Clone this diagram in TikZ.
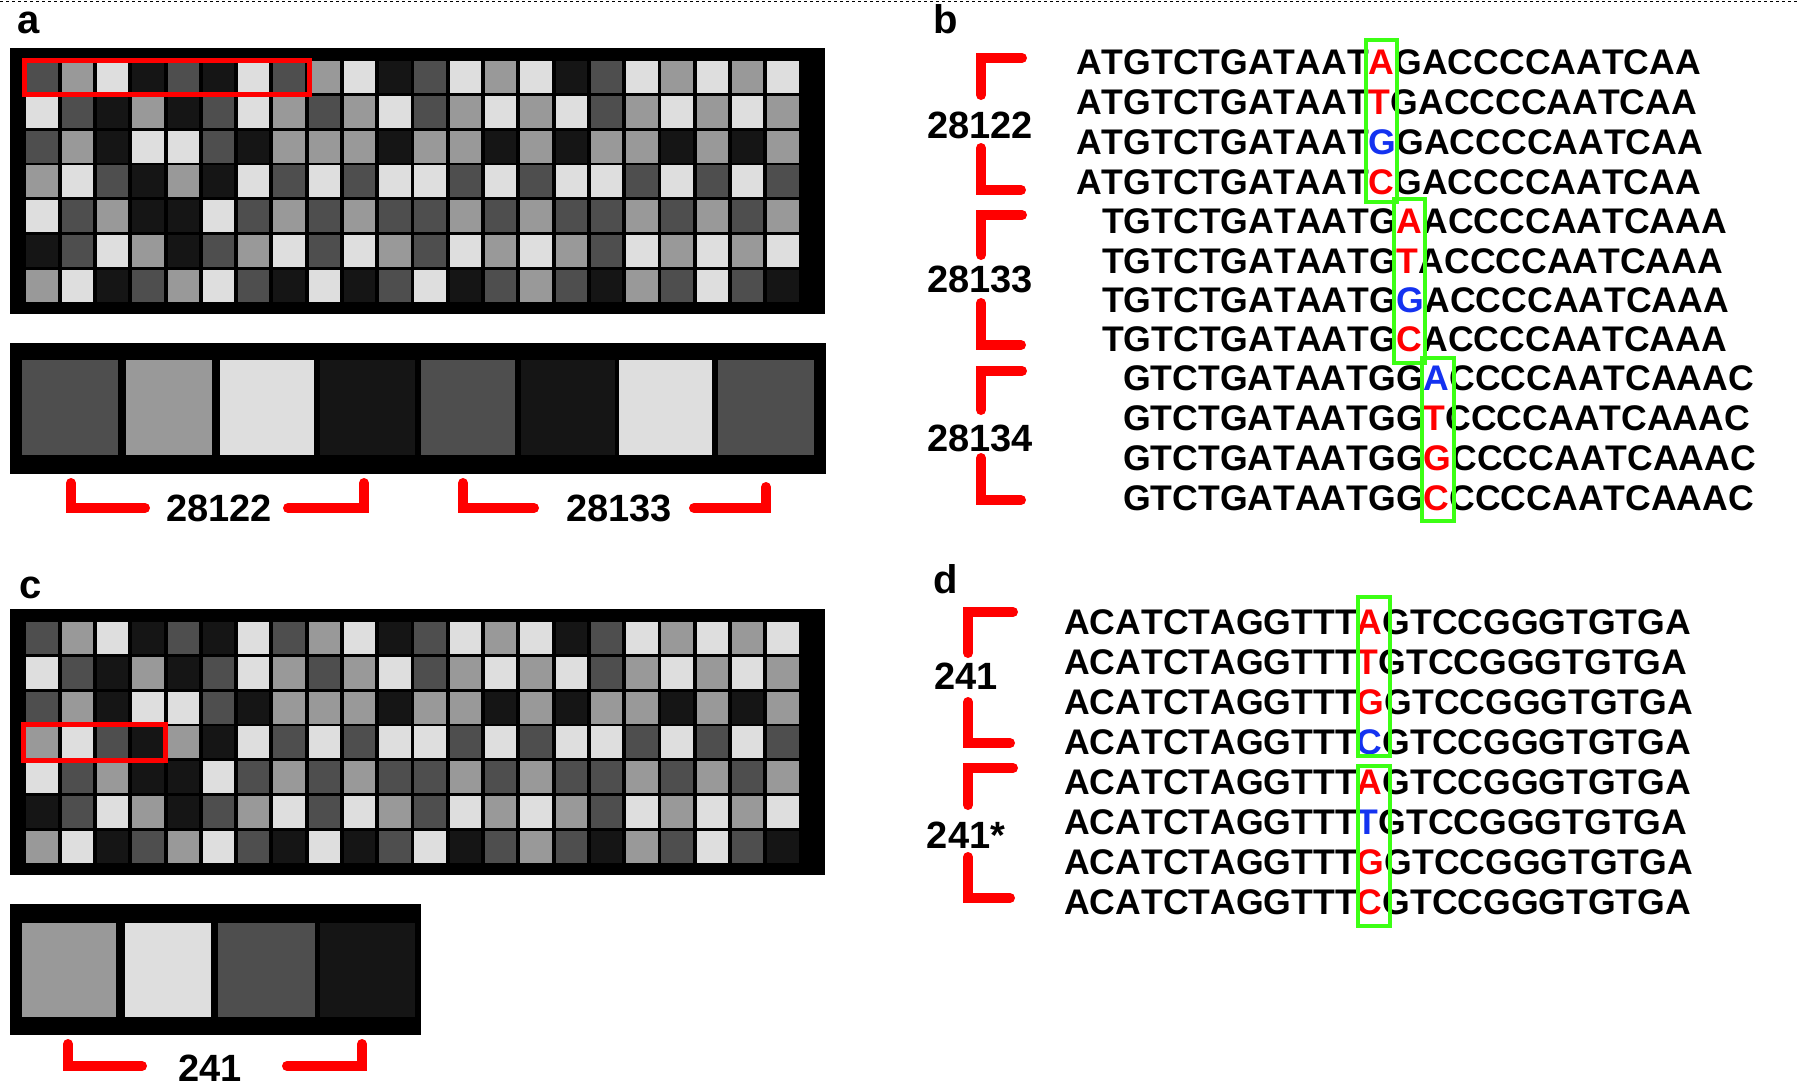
\documentclass[tikz,border=0pt]{standalone}
\usepackage{fontspec}
\setmainfont{Liberation Sans}[Kerning=Off]
\definecolor{gL}{RGB}{222,222,222}
\definecolor{gM}{RGB}{153,153,153}
\definecolor{gD}{RGB}{78,78,78}
\definecolor{gK}{RGB}{21,21,21}
\definecolor{mred}{RGB}{255,0,0}
\definecolor{mblue}{RGB}{20,50,240}
\definecolor{mgreen}{RGB}{60,255,20}
\newcommand{\hlr}[1]{\textcolor{mred}{#1}}
\newcommand{\hlb}[1]{\textcolor{mblue}{#1}}
\def\gridrows{{D,M,L,K,D,K,L,D,M,L,K,D,L,M,L,K,D,L,M,L,M,L},{L,D,K,M,K,D,L,M,D,M,L,D,M,L,M,L,D,M,L,M,L,M},{D,M,K,L,L,D,K,M,M,M,K,M,M,K,M,K,M,M,K,M,K,M},{M,L,D,K,M,K,L,D,L,D,L,L,D,L,D,L,L,D,L,D,L,D},{L,D,M,K,K,L,D,M,D,M,D,D,M,D,M,D,D,M,D,M,D,M},{K,D,L,M,K,D,M,L,D,L,M,D,L,M,L,M,D,L,M,L,M,L},{M,L,K,D,M,L,D,K,L,K,D,L,K,D,M,D,K,M,D,L,D,K}}
\begin{document}
\begin{tikzpicture}[x=1pt,y=-1pt,
  seq/.style={anchor=base west, inner sep=0pt, font=\fontsize{35.6}{40}\selectfont\bfseries},
  lab/.style={inner sep=0pt, font=\fontsize{38}{44}\selectfont\bfseries},
  plab/.style={anchor=base west, inner sep=0pt, font=\fontsize{40}{44}\selectfont\bfseries},
  brk/.style={draw=mred, line width=10pt, line cap=round},
  gbox/.style={draw=mgreen, line width=4pt},
  rbox/.style={draw=mred, line width=5pt},
  panelbg/.style={fill=black}
]
\useasboundingbox (0,0) rectangle (1800,1088);
\fill[white] (0,0) rectangle (1800,1088);
\draw[dash pattern=on 3pt off 3pt, line width=1.5pt] (0,1.5) -- (1800,1.5);

% panel labels
\node[plab] (la) at (17,33) {a};
\node[plab] (lb) at (933,33) {b};
\node[plab] (lc) at (19,598) {c};
\node[plab] (ld) at (933,593) {d};

% grids a and c
\foreach \dy in {0,561}{
  \begin{scope}[shift={(0,\dy)}]
    \fill[panelbg] (10,48) rectangle (825,314);
    \foreach \row [count=\i from 0] in \gridrows {
      \foreach \cc [count=\j from 0] in \row {
        \fill[fill=g\cc] ({26.4+35.28*\j},{61+34.8*\i}) rectangle ++(31.4,32);
      }
    }
  \end{scope}
}
\draw[rbox] (24.5,60.5) rectangle (309.5,94.5);
\draw[rbox] (23.5,724.5) rectangle (165.5,760.5);

% sub-panel a
\fill[panelbg] (10,343) rectangle (826,474);
\foreach \x/\w/\cc in {22/96/D,126/86/M,220/94/L,320/95/K,421/94/D,521/94/K,619/93/L,718/96/D}{
  \fill[fill=g\cc] (\x,360) rectangle ++(\w,95);
}
\draw[brk] (71,483) -- (71,508) -- (145,508);
\draw[brk] (288,508) -- (364,508) -- (364,483);
\node[lab] (ta1) at (219,508) {28122};
\draw[brk] (463,483) -- (463,508) -- (534,508);
\draw[brk] (694,508) -- (766,508) -- (766,487);
\node[lab] (ta2) at (619,508) {28133};

% sub-panel c
\fill[panelbg] (10,904) rectangle (421,1035);
\foreach \x/\w/\cc in {22/94/M,125/86/L,218/97/D,320/95/K}{
  \fill[fill=g\cc] (\x,923) rectangle ++(\w,94);
}
\draw[brk] (68,1044) -- (68,1066) -- (142,1066);
\draw[brk] (287,1066) -- (362,1066) -- (362,1044);
\node[lab] (tc1) at (210,1068) {241};

% panel b brackets
\draw[brk] (1022,58) -- (981,58) -- (981,95);
\node[lab] (tb1) at (980,125) {28122};
\draw[brk] (981,148) -- (981,190) -- (1021,190);
\draw[brk] (1022,215) -- (981,215) -- (981,255);
\node[lab] (tb2) at (980,279) {28133};
\draw[brk] (981,303) -- (981,345) -- (1021,345);
\draw[brk] (1022,371) -- (981,371) -- (981,410);
\node[lab] (tb3) at (980,438) {28134};
\draw[brk] (981,458) -- (981,500) -- (1021,500);

% panel b sequences
\node[seq] (s1) at (1076,74) {ATGTCTGATAAT\hlr{A}GACCCCAATCAA};
\node[seq] (s2) at (1076,114) {ATGTCTGATAAT\hlr{T}GACCCCAATCAA};
\node[seq] (s3) at (1076,154) {ATGTCTGATAAT\hlb{G}GACCCCAATCAA};
\node[seq] (s4) at (1076,194) {ATGTCTGATAAT\hlr{C}GACCCCAATCAA};
\node[seq] (s5) at (1102,233) {TGTCTGATAATG\hlr{A}ACCCCAATCAAA};
\node[seq] (s6) at (1102,273) {TGTCTGATAATG\hlr{T}ACCCCAATCAAA};
\node[seq] (s7) at (1102,312) {TGTCTGATAATG\hlb{G}ACCCCAATCAAA};
\node[seq] (s8) at (1102,351) {TGTCTGATAATG\hlr{C}ACCCCAATCAAA};
\node[seq] (s9) at (1123,390) {GTCTGATAATGG\hlb{A}CCCCAATCAAAC};
\node[seq] (s10) at (1123,430) {GTCTGATAATGG\hlr{T}CCCCAATCAAAC};
\node[seq] (s11) at (1123,470) {GTCTGATAATGG\hlr{G}CCCCAATCAAAC};
\node[seq] (s12) at (1123,510) {GTCTGATAATGG\hlr{C}CCCCAATCAAAC};
\draw[gbox] (1366,40) rectangle (1397,202);
\draw[gbox] (1394,199) rectangle (1425,363);
\draw[gbox] (1422,358) rectangle (1454,521);

% panel d brackets
\draw[brk] (1013,612) -- (968,612) -- (968,653);
\node[lab] (td1) at (966,676) {241};
\draw[brk] (968,702) -- (968,743) -- (1010,743);
\draw[brk] (1013,768) -- (968,768) -- (968,805);
\node[lab] (td2) at (966,835) {241*};
\draw[brk] (968,857) -- (968,898) -- (1010,898);

% panel d sequences
\node[seq] (d1) at (1064,634) {ACATCTAGGTTT\hlr{A}GTCCGGGTGTGA};
\node[seq] (d2) at (1064,674) {ACATCTAGGTTT\hlr{T}GTCCGGGTGTGA};
\node[seq] (d3) at (1064,714) {ACATCTAGGTTT\hlr{G}GTCCGGGTGTGA};
\node[seq] (d4) at (1064,754) {ACATCTAGGTTT\hlb{C}GTCCGGGTGTGA};
\node[seq] (d5) at (1064,794) {ACATCTAGGTTT\hlr{A}GTCCGGGTGTGA};
\node[seq] (d6) at (1064,834) {ACATCTAGGTTT\hlb{T}GTCCGGGTGTGA};
\node[seq] (d7) at (1064,874) {ACATCTAGGTTT\hlr{G}GTCCGGGTGTGA};
\node[seq] (d8) at (1064,914) {ACATCTAGGTTT\hlr{C}GTCCGGGTGTGA};
\draw[gbox] (1358,597) rectangle (1390,756);
\draw[gbox] (1358,766) rectangle (1390,926);
\end{tikzpicture}
\end{document}
